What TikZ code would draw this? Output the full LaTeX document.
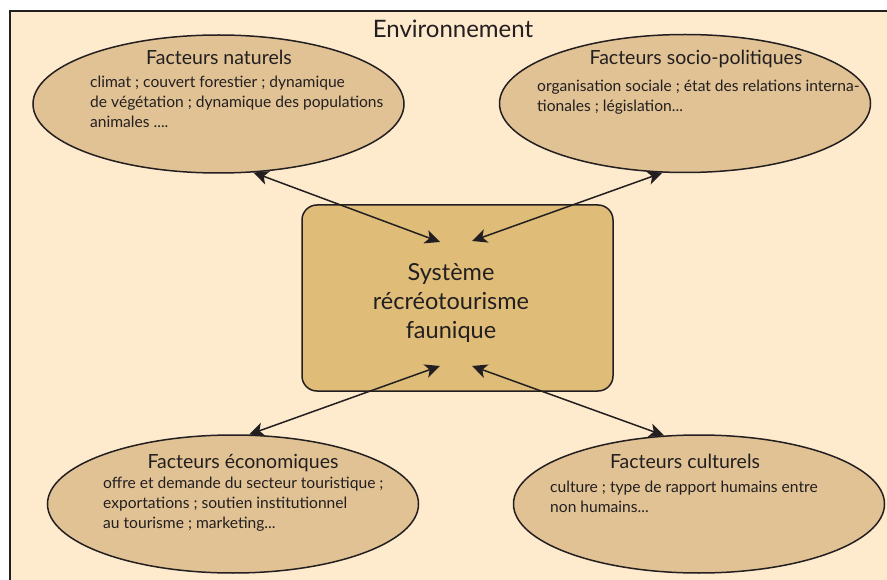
\documentclass[tikz,border=0pt]{standalone}
\usepackage{fontspec}
\setmainfont{Lato}
\usetikzlibrary{arrows.meta,shapes.geometric}
\definecolor{bg}{HTML}{FEEACD}
\definecolor{ellfill}{HTML}{E0C294}
\definecolor{boxfill}{HTML}{DFBD79}
\definecolor{ink}{HTML}{231F20}
\begin{document}
\begin{tikzpicture}[x=1pt,y=-1pt,
  ell/.style={ellipse, draw=ink, line width=1.5pt, fill=ellfill, minimum width=371pt, minimum height=138pt, inner sep=0pt},
  sysbox/.style={rectangle, rounded corners=15pt, draw=ink, line width=1.5pt, fill=boxfill, minimum width=311pt, minimum height=186pt, inner sep=0pt},
  ttl/.style={text=ink, font=\fontsize{19.5}{22}\selectfont, anchor=base, inner sep=0pt},
  body/.style={text=ink, font=\fontsize{15.6}{20}\selectfont, anchor=base west, align=left, inner sep=0pt},
  tip/.style={Stealth[length=15pt,width=14pt,inset=4pt]},
  link/.style={ink, line width=1.5pt, {Stealth[length=15pt,width=14pt,inset=4pt]}-{Stealth[length=15pt,width=14pt,inset=4pt]}}
]
\useasboundingbox (0,0) rectangle (887,580);
\clip (0,0) rectangle (887,580);
\fill[white] (0,0) rectangle (887,580);
\draw[ink, fill=bg, line width=1.5pt] (10,11) rectangle (900,600);
\node[text=ink, font=\fontsize{24}{26}\selectfont, anchor=base, inner sep=0pt] (env) at (453,38) {Environnement};

\node[ell] (nat) at (218.5,104) {};
\node[ell] (soc) at (685,103.5) {};
\node[ell] (eco) at (233,504) {};
\node[ell] (cul) at (699,504) {};
\node[sysbox] (sys) at (457.5,298) {};

\node[ttl] (natT) at (219,65) {Facteurs naturels};
\node[body] (natB) at (90,128) {climat ; couvert forestier ; dynamique\\de végétation ; dynamique des populations\\animales ....};
\node[ttl] (socT) at (696,65) {Facteurs socio-politiques};
\node[body] (socB) at (537,112) {organisation sociale ; état des relations interna-\\tionales ; législation...};
\node[ttl] (ecoT) at (243,468) {Facteurs économiques};
\node[body] (ecoB) at (103,528) {offre et demande du secteur touristique ;\\exportations ; soutien institutionnel\\au tourisme ; marketing...};
\node[ttl] (culT) at (685,468) {Facteurs culturels};
\node[body] (culB) at (550,512) {culture ; type de rapport humains entre\\non humains...};

\node[text=ink, font=\fontsize{23.5}{29}\selectfont, align=center, anchor=base, inner sep=0pt] (sysT) at (451,338) {Système\\récréotourisme\\faunique};

\coordinate (c1) at (440,242);
\coordinate (c2) at (472,241);
\coordinate (c3) at (440,366);
\coordinate (c4) at (472,366);
\draw[link] (nat.-63) -- (c1);
\draw[link] (c2) -- (soc.-108);
\draw[link] (c3) -- (eco.77);
\draw[link] (c4) -- (cul.117);
\end{tikzpicture}
\end{document}
